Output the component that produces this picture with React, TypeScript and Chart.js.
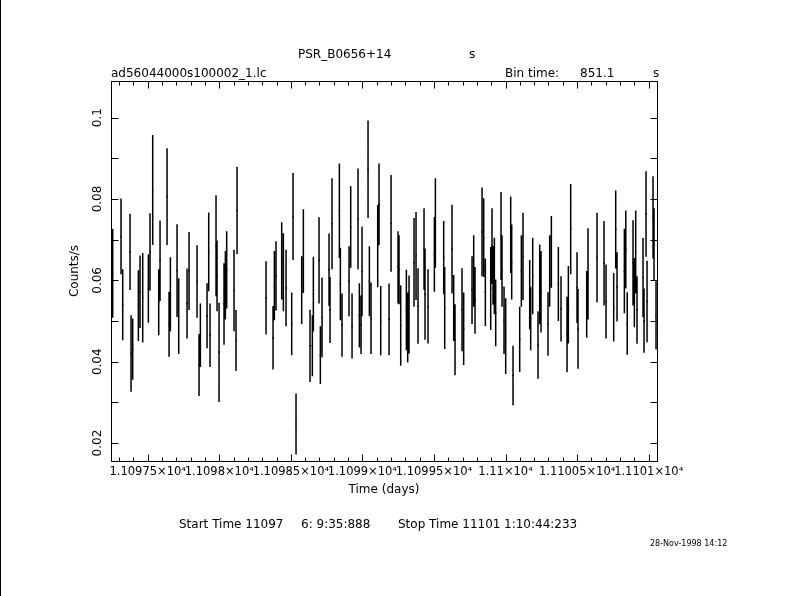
import React, { useEffect, useRef } from "react";
import { Chart, registerables } from "chart.js";

Chart.register(...registerables);

// ---- data ----
const BIN_TIME_S = 851.1;

const times = [
  11097.2555, 11097.3137, 11097.3254, 11097.3766, 11097.3836, 11097.3953, 11097.4348, 11097.4465, 11097.4651, 11097.5047,
  11097.5163, 11097.535, 11097.5769, 11097.5862, 11097.6351, 11097.6491, 11097.6584, 11097.705, 11097.7166, 11097.7748,
  11097.7888, 11097.8447, 11097.8587, 11097.868, 11097.9146, 11097.9262, 11097.9355, 11097.9774, 11097.9844, 11097.9984,
  11098.0332, 11098.0426, 11098.0519, 11098.1031, 11098.1171, 11098.1241, 11098.3267, 11098.3756, 11098.3849, 11098.3965,
  11098.4361, 11098.4478, 11098.4664, 11098.506, 11098.5153, 11098.5362, 11098.5758, 11098.5875, 11098.634, 11098.6503,
  11098.6573, 11098.6969, 11098.7062, 11098.7179, 11098.7668, 11098.7738, 11098.7877,
  11098.839, 11098.846, 11098.8576, 11098.9065, 11098.9182, 11098.9275, 11098.9694, 11098.9787, 11098.9904, 11098.9974,
  11099.0393, 11099.0486, 11099.0602, 11099.1068, 11099.1161, 11099.1278, 11099.186, 11099.2, 11099.2489, 11099.2558,
  11099.2675, 11099.3071, 11099.3164, 11099.3257, 11099.3606, 11099.3746, 11099.3886, 11099.4305, 11099.4375, 11099.4584,
  11099.5027, 11099.5097,
  11099.5678, 11099.5748, 11099.626, 11099.6377, 11099.647, 11099.6959, 11099.7075, 11099.7658, 11099.7774, 11099.7867,
  11099.8356, 11099.8473, 11099.8589, 11099.8962, 11099.9055, 11099.9125, 11099.9218, 11099.9311, 11099.9684, 11099.9753,
  11099.9893, 11100.001, 11100.0359, 11100.0429, 11100.0522, 11100.0988, 11100.1104, 11100.122, 11100.1686, 11100.1756,
  11100.1896, 11100.2268, 11100.2385, 11100.2478, 11100.2967, 11100.3083, 11100.32,
  11100.3689, 11100.3875, 11100.4295, 11100.4388, 11100.4551, 11100.4993, 11100.5063, 11100.5669, 11100.5762, 11100.639,
  11100.688, 11100.7019, 11100.7555, 11100.7695, 11100.7788, 11100.83, 11100.84, 11100.85, 11100.8905, 11100.8999,
  11100.9092, 11100.9185, 11100.9604, 11100.9674, 11100.9814, 11100.9884, 11101.0303, 11101.0373, 11101.0512,
];

const rates = [
  0.0617, 0.0708, 0.054, 0.067, 0.042, 0.0431, 0.0538, 0.0572, 0.0557, 0.058,
  0.067, 0.0822, 0.0546, 0.0648, 0.0806, 0.0492, 0.0566, 0.0624, 0.0512, 0.0543,
  0.0623, 0.0597, 0.0392, 0.0465, 0.0513, 0.067, 0.0465, 0.0685, 0.0611, 0.0423,
  0.0542, 0.0588, 0.0626, 0.0575, 0.0452, 0.0772, 0.0557, 0.0459, 0.0587, 0.0611,
  0.0648, 0.062, 0.0581, 0.0493, 0.0757, 0.0247, 0.0576, 0.0672, 0.0439, 0.0439,
  0.0566, 0.0649, 0.0416, 0.0509, 0.0626, 0.0527, 0.0739,
  0.0771, 0.0591, 0.049, 0.0598, 0.0731, 0.0488, 0.0751, 0.0514, 0.0491, 0.0622,
  0.0873, 0.0598, 0.0507, 0.0684, 0.0787, 0.0501, 0.0504, 0.074, 0.0632, 0.0626,
  0.0489, 0.0527, 0.0484, 0.0516, 0.0644, 0.066, 0.0537, 0.0677, 0.0566, 0.0536,
  0.0664, 0.0741,
  0.0656, 0.0532, 0.0677, 0.0532, 0.0454, 0.0528, 0.0481, 0.0576, 0.0623, 0.0551,
  0.0719, 0.0705, 0.0571, 0.058, 0.0684, 0.0612, 0.0611, 0.052, 0.0709, 0.0623,
  0.0502, 0.0463, 0.0712, 0.0645, 0.0366, 0.0455, 0.0623, 0.0659, 0.0565, 0.0506,
  0.0611, 0.0441, 0.059, 0.0572, 0.0493, 0.0623, 0.067,
  0.0591, 0.053, 0.0467, 0.054, 0.0726, 0.0582, 0.0481, 0.0541, 0.0616, 0.0656,
  0.0642, 0.0548, 0.0534, 0.0725, 0.0584, 0.0623, 0.0676, 0.0494, 0.0643, 0.057,
  0.067, 0.0527, 0.0607, 0.0501, 0.0763, 0.0548, 0.0755, 0.0688, 0.0514,
];

const errors = [
  0.0109, 0.0093, 0.0087, 0.0094, 0.0094, 0.0075, 0.0087, 0.0089, 0.011, 0.0084,
  0.0095, 0.0135, 0.0081, 0.0099, 0.0119, 0.008, 0.0091, 0.0114, 0.0093, 0.0086,
  0.0096, 0.0089, 0.0076, 0.0078, 0.008, 0.0097, 0.0078, 0.0124, 0.0087, 0.0122,
  0.01, 0.0084, 0.0095, 0.01, 0.0075, 0.0107, 0.009, 0.0078, 0.0085, 0.0085,
  0.0095, 0.0096, 0.0094, 0.0077, 0.0107, 0.0075, 0.0083, 0.0103, 0.0089, 0.0075,
  0.0092, 0.0106, 0.0071, 0.0098, 0.0089, 0.0081, 0.0112,
  0.0116, 0.0089, 0.0078, 0.0086, 0.01, 0.008, 0.0124, 0.0079, 0.0072, 0.011,
  0.012, 0.0086, 0.0088, 0.0101, 0.01, 0.0085, 0.0088, 0.0119, 0.0089, 0.0085,
  0.0099, 0.0099, 0.0086, 0.0096, 0.0109, 0.0108, 0.0093, 0.01, 0.0112, 0.0091,
  0.0092, 0.011,
  0.009, 0.0101, 0.0109, 0.0081, 0.0087, 0.0102, 0.0089, 0.0083, 0.0088, 0.0082,
  0.0109, 0.0097, 0.0083, 0.0102, 0.0093, 0.0072, 0.0094, 0.0082, 0.0108, 0.0088,
  0.0083, 0.0093, 0.0094, 0.0092, 0.0073, 0.008, 0.0088, 0.0107, 0.0085, 0.0078,
  0.0094, 0.0083, 0.0098, 0.01, 0.0078, 0.0088, 0.0088,
  0.0091, 0.008, 0.0093, 0.0095, 0.0111, 0.0087, 0.0098, 0.0082, 0.0112, 0.011,
  0.0104, 0.0091, 0.0084, 0.0096, 0.0085, 0.0104, 0.0096, 0.0077, 0.0105, 0.0085,
  0.0102, 0.0083, 0.0097, 0.0079, 0.0105, 0.01, 0.0101, 0.0089, 0.0084,
];

const xTickValues = [11097.5, 11098, 11098.5, 11099, 11099.5, 11100, 11100.5, 11101];
const xTickLabels = [
  "1.10975×10⁴", "1.1098×10⁴", "1.10985×10⁴", "1.1099×10⁴",
  "1.10995×10⁴", "1.11×10⁴", "1.11005×10⁴", "1.1101×10⁴",
];
const yTickValues = [0.02, 0.04, 0.06, 0.08, 0.1];
const yTickLabels = ["0.02", "0.04", "0.06", "0.08", "0.1"];

const X_MIN = 11097.2436;
const X_MAX = 11101.058;
const Y_MIN = 0.0156;
const Y_MAX = 0.109;

const FONT = "'DejaVu Sans', sans-serif";

function Txt(props: { x: number; y: number; size?: number; children: React.ReactNode }) {
  const size = props.size ?? 12;
  return (
    <div
      style={{
        position: "absolute",
        left: props.x,
        top: props.y - 0.481 * size,
        fontFamily: FONT,
        fontSize: size,
        lineHeight: `${size}px`,
        whiteSpace: "pre",
        color: "#000",
      }}
    >
      {props.children}
    </div>
  );
}

export default function App() {
  const ref = useRef<HTMLCanvasElement>(null);

  useEffect(() => {
    const canvas = ref.current;
    if (!canvas) return;
    Chart.defaults.font.family = FONT;
    Chart.defaults.color = "#000";

    const halfBin = BIN_TIME_S / 86400 / 2;
    const barData: { x: number; y: number | null }[] = [];
    const capData: { x: number; y: number | null }[] = [];
    times.forEach((t, i) => {
      barData.push({ x: t, y: rates[i] - errors[i] }, { x: t, y: rates[i] + errors[i] }, { x: t, y: null });
      capData.push({ x: t - halfBin, y: rates[i] }, { x: t + halfBin, y: rates[i] }, { x: t, y: null });
    });

    const framePlugin = {
      id: "pgframe",
      afterDraw(chart: any) {
        const { ctx, chartArea, scales } = chart;
        const xs = scales.x;
        const ys = scales.y;
        const L = Math.round(chartArea.left);
        const R = Math.round(chartArea.right);
        const T = Math.round(chartArea.top);
        const B = Math.round(chartArea.bottom);
        ctx.save();
        ctx.strokeStyle = "#000";
        ctx.lineWidth = 1;
        ctx.strokeRect(L + 0.5, T + 0.5, R - L, B - T);
        ctx.beginPath();
        for (let k = Math.ceil(xs.min * 10); k <= Math.floor(xs.max * 10); k++) {
          const px = Math.round(xs.getPixelForValue(k / 10)) + 0.5;
          const len = k % 5 === 0 ? 7 : 4;
          ctx.moveTo(px, B + 0.5);
          ctx.lineTo(px, B + 0.5 - len);
          ctx.moveTo(px, T + 0.5);
          ctx.lineTo(px, T + 0.5 + len);
        }
        for (let k = Math.ceil(ys.min * 100); k <= Math.floor(ys.max * 100); k++) {
          const py = Math.round(ys.getPixelForValue(k / 100)) + 0.5;
          ctx.moveTo(L + 0.5, py);
          ctx.lineTo(L + 0.5 + 7, py);
          ctx.moveTo(R + 0.5, py);
          ctx.lineTo(R + 0.5 - 7, py);
        }
        ctx.stroke();
        ctx.fillStyle = "#000";
        ctx.font = `12px ${FONT}`;
        ctx.textAlign = "center";
        ctx.textBaseline = "middle";
        yTickValues.forEach((v, i) => {
          const py = ys.getPixelForValue(v);
          ctx.save();
          ctx.translate(L - 13, py);
          ctx.rotate(-Math.PI / 2);
          ctx.fillText(yTickLabels[i], 0, 0);
          ctx.restore();
        });
        ctx.restore();
      },
    };

    const chart = new Chart(canvas, {
      type: "line",
      data: {
        datasets: [
          {
            data: barData as any,
            borderColor: "#000",
            borderWidth: 1.5,
            pointRadius: 0,
            spanGaps: false,
            fill: false,
            tension: 0,
          },
          {
            data: capData as any,
            borderColor: "#000",
            borderWidth: 1.5,
            pointRadius: 0,
            spanGaps: false,
            fill: false,
            tension: 0,
          },
        ],
      },
      options: {
        responsive: false,
        animation: false,
        devicePixelRatio: 1,
        events: [],
        layout: { padding: { left: 0, right: 133, top: 81, bottom: 95 } },
        plugins: { legend: { display: false }, tooltip: { enabled: false }, title: { display: false } },
        scales: {
          x: {
            type: "linear",
            min: X_MIN,
            max: X_MAX,
            afterBuildTicks: (s: any) => {
              s.ticks = xTickValues.map((v) => ({ value: v }));
            },
            afterFit: (s: any) => {
              s.height = 40;
              s.paddingLeft = 0;
              s.paddingRight = 0;
            },
            ticks: {
              autoSkip: false,
              maxRotation: 0,
              minRotation: 0,
              padding: 4,
              color: "#000",
              font: { size: 11.5, family: FONT },
              callback: (_v: any, i: number) => xTickLabels[i],
            },
            grid: { display: false, drawTicks: false },
            border: { display: false },
            title: {
              display: true,
              text: "Time (days)",
              color: "#000",
              font: { size: 12, family: FONT },
              padding: { top: 0, bottom: 4 },
            },
          },
          y: {
            type: "linear",
            min: Y_MIN,
            max: Y_MAX,
            afterBuildTicks: (s: any) => {
              s.ticks = yTickValues.map((v) => ({ value: v }));
            },
            afterFit: (s: any) => {
              s.width = 111;
              s.paddingTop = 0;
              s.paddingBottom = 0;
            },
            ticks: { display: false },
            grid: { display: false, drawTicks: false },
            border: { display: false },
            title: {
              display: true,
              text: "Counts/s",
              color: "#000",
              font: { size: 12, family: FONT },
              padding: { top: 68, bottom: 0 },
            },
          },
        },
      } as any,
      plugins: [framePlugin],
    });
    return () => chart.destroy();
  }, []);

  return (
    <div
      style={{
        position: "absolute",
        left: 0,
        top: 0,
        width: 790,
        height: 596,
        background: "#fff",
        overflow: "hidden",
      }}
    >
      <canvas ref={ref} width={790} height={596} style={{ display: "block", width: 790, height: 596 }} />
      <div style={{ position: "absolute", left: 0, top: 0, width: 1, height: 596, background: "#000" }} />
      <Txt x={298} y={54}>PSR_B0656+14</Txt>
      <Txt x={469} y={54}>s</Txt>
      <Txt x={111} y={73}>ad56044000s100002_1.lc</Txt>
      <Txt x={505} y={73}>Bin time:</Txt>
      <Txt x={580} y={73}>851.1</Txt>
      <Txt x={653} y={73}>s</Txt>
      <Txt x={179} y={524}>Start Time 11097</Txt>
      <Txt x={301} y={524}>6: 9:35:888</Txt>
      <Txt x={398} y={524}>Stop Time 11101</Txt>
      <Txt x={504} y={524}>1:10:44:233</Txt>
      <Txt x={650} y={544} size={8}>28-Nov-1998 14:12</Txt>
    </div>
  );
}
